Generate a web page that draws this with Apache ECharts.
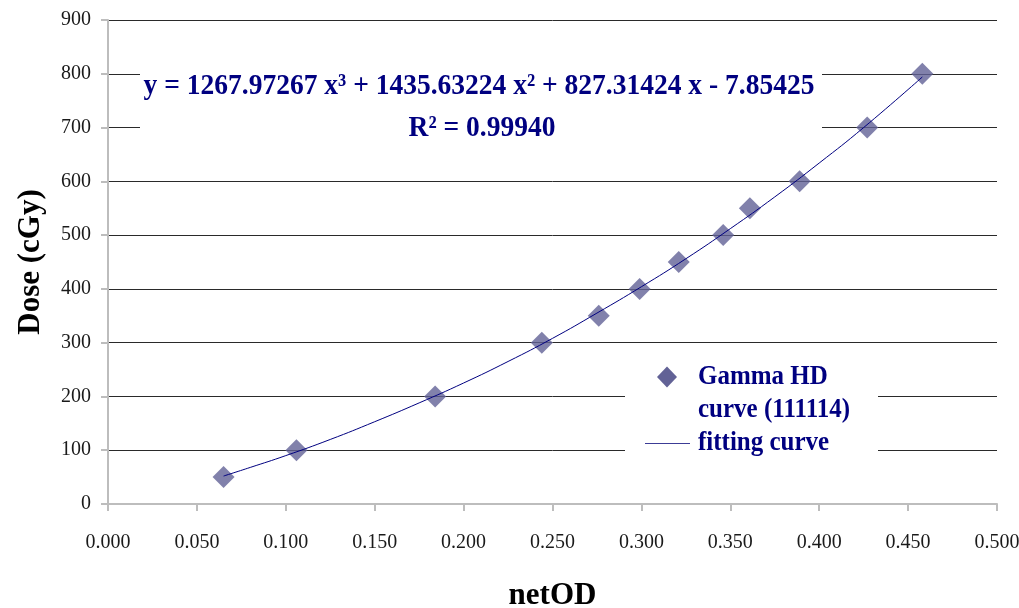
<!DOCTYPE html>
<html>
<head>
<meta charset="utf-8">
<script src="https://cdn.jsdelivr.net/npm/echarts@6/dist/echarts.min.js"></script>
<style>
  html, body { margin: 0; padding: 0; background: #fff; overflow: hidden; }
  #chart { width: 1019px; height: 608px; }
</style>
</head>
<body>
<div id="chart"></div>
<script>
// Measured film response: net optical density vs delivered dose
const netOD = [0.065, 0.106, 0.184, 0.244, 0.276, 0.299, 0.321, 0.346, 0.361, 0.389, 0.427, 0.458];
const dose = [50, 100, 200, 300, 350, 400, 450, 500, 550, 600, 700, 800];

// Fitted calibration curve, sampled along netOD
const fitOD = [0.065, 0.08, 0.10, 0.125, 0.15, 0.175, 0.20, 0.225, 0.25, 0.275, 0.30, 0.325, 0.35, 0.375, 0.40, 0.425, 0.458];
const fitDose = [52, 68, 90, 120, 153, 188, 225, 265, 308, 355, 404, 456, 512, 571, 634, 700, 794];

// Axis ranges and tick steps
const xTicks = [0, 0.5, 0.05];
const yTicks = [0, 900, 100];

// Text shown on the plot
const equationText = 'y = 1267.97267 x\u00B3 + 1435.63224 x\u00B2 + 827.31424 x - 7.85425';
const r2Text = 'R\u00B2 = 0.99940';
const seriesNames = ['Gamma HD curve (111114)', 'fitting curve'];
const legendLines = ['Gamma HD', 'curve (111114)', 'fitting curve'];

const SERIF = '"Liberation Serif", "Times New Roman", serif';
const NAVY = '#000080';
const MARKER = '#626296';

const chart = echarts.init(document.getElementById('chart'), null, { renderer: 'canvas' });

function txt(x, y, text, size, align, sy) {
  return {
    type: 'text', x: x, y: y, z: 20, scaleY: sy || 1,
    style: {
      text: text, fill: NAVY,
      font: 'bold ' + size + 'px ' + SERIF,
      align: align, verticalAlign: 'middle',
      textAlign: align, textVerticalAlign: 'middle'
    }
  };
}

const option = {
  backgroundColor: '#ffffff',
  animation: false,
  grid: { left: 108, top: 20, width: 889, height: 484, containLabel: false, outerBoundsMode: 'none' },
  xAxis: {
    type: 'value',
    min: xTicks[0], max: xTicks[1], interval: xTicks[2],
    name: 'netOD',
    nameLocation: 'middle',
    nameGap: 76,
    nameTextStyle: { fontFamily: SERIF, fontWeight: 'bold', fontSize: 31, color: '#000' },
    axisLine: { lineStyle: { color: '#bdbdbd', width: 2 } },
    axisTick: { show: true, length: 7, lineStyle: { color: '#bdbdbd', width: 2 } },
    axisLabel: {
      margin: 29, fontFamily: SERIF, fontSize: 20, color: '#1a1a1a',
      formatter: function (v) { return v.toFixed(3); }
    },
    splitLine: { show: false }
  },
  yAxis: {
    type: 'value',
    min: yTicks[0], max: yTicks[1], interval: yTicks[2],
    name: 'Dose (cGy)',
    nameLocation: 'middle',
    nameGap: 62,
    nameTextStyle: { fontFamily: SERIF, fontWeight: 'bold', fontSize: 31, color: '#000' },
    axisLine: { show: true, lineStyle: { color: '#bdbdbd', width: 2 } },
    axisTick: { show: true, length: 7, lineStyle: { color: '#bdbdbd', width: 2 } },
    axisLabel: { margin: 17, fontFamily: SERIF, fontSize: 20, color: '#1a1a1a' },
    splitLine: { show: true, lineStyle: { color: '#2a2a2a', width: 1 } }
  },
  series: [
    {
      name: seriesNames[0],
      type: 'scatter',
      symbol: 'diamond',
      symbolSize: 22,
      itemStyle: { color: MARKER },
      z: 3,
      data: netOD.map(function (x, i) { return [x, dose[i]]; })
    },
    {
      name: seriesNames[1],
      type: 'line',
      symbol: 'none',
      smooth: true,
      lineStyle: { color: NAVY, width: 1 },
      z: 4,
      data: fitOD.map(function (x, i) { return [x, fitDose[i]]; })
    }
  ],
  graphic: [
    // fit equation box
    { type: 'rect', z: 15, shape: { x: 140, y: 58, width: 682, height: 98 }, style: { fill: '#ffffff' } },
    txt(479, 86, equationText, 27.5, 'center', 1.1),
    txt(482, 128, r2Text, 27.5, 'center', 1.1),
    // legend box
    { type: 'rect', z: 15, shape: { x: 625, y: 356, width: 253, height: 106 }, style: { fill: '#ffffff' } },
    { type: 'polygon', z: 20, shape: { points: [[667, 366.5], [677, 377], [667, 387.5], [657, 377]] }, style: { fill: MARKER } },
    txt(698, 377, legendLines[0], 25, 'left', 1.1),
    txt(698, 410, legendLines[1], 25, 'left', 1.1),
    { type: 'line', z: 20, shape: { x1: 645, y1: 443.5, x2: 690, y2: 443.5 }, style: { stroke: '#3c3c96', lineWidth: 1 } },
    txt(698, 443, legendLines[2], 25, 'left', 1.1)
  ]
};

chart.setOption(option);
</script>
</body>
</html>
